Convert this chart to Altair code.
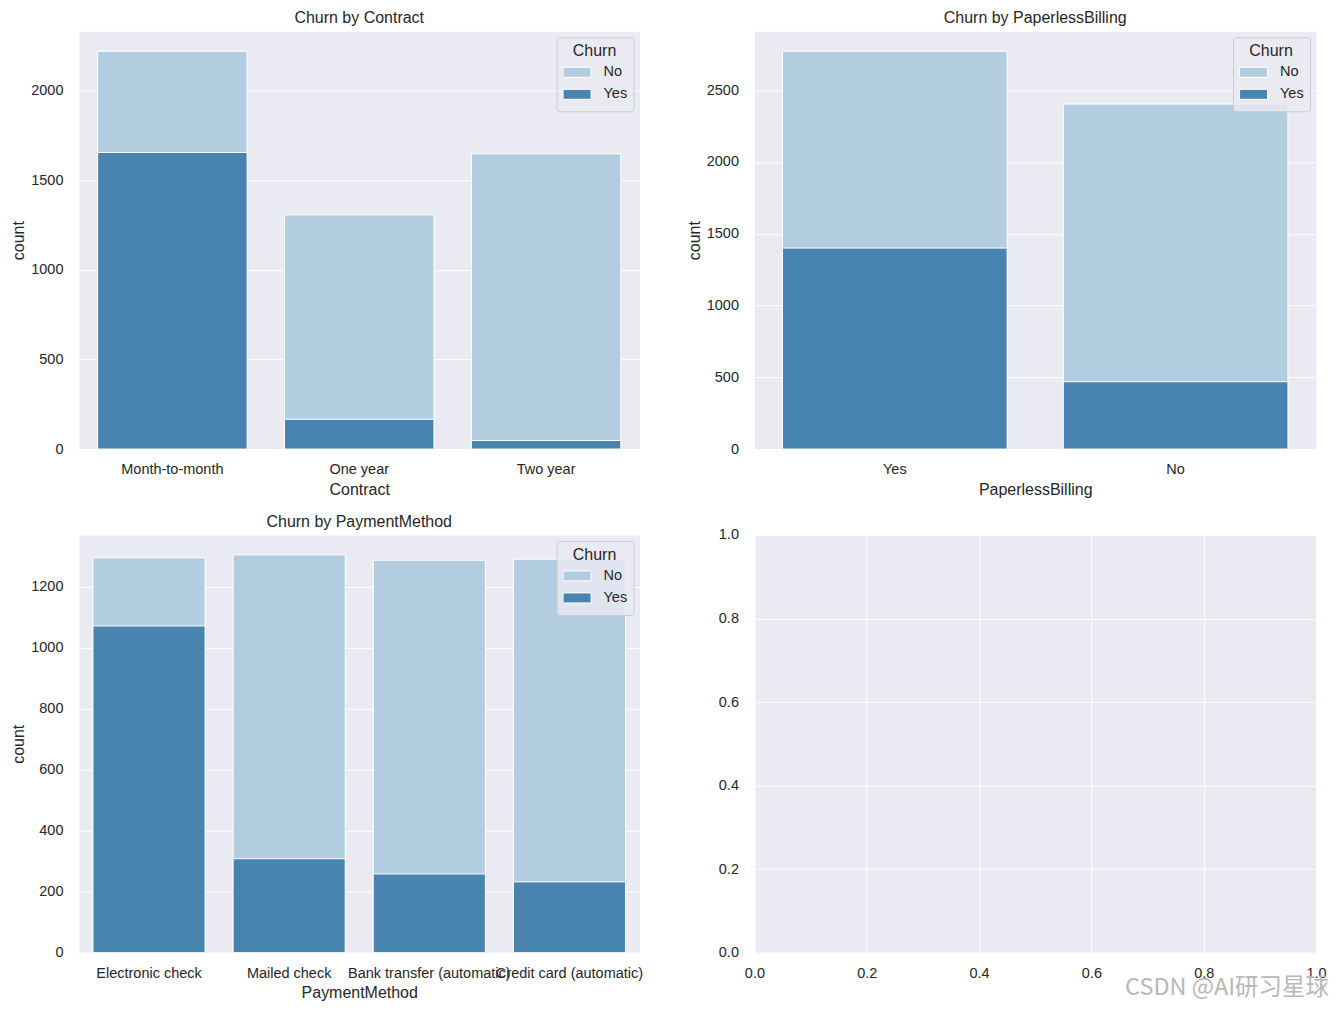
import altair as alt
import pandas as pd

# ---- data ----
churn_levels = ["No", "Yes"]

contract_cats = ["Month-to-month", "One year", "Two year"]
contract_no = [2220, 1307, 1647]
contract_yes = [1655, 166, 48]

paperless_cats = ["Yes", "No"]
paperless_no = [2771, 2403]
paperless_yes = [1400, 469]

payment_cats = ["Electronic check", "Mailed check", "Bank transfer (automatic)", "Credit card (automatic)"]
payment_no = [1294, 1304, 1286, 1290]
payment_yes = [1071, 308, 258, 232]

contract_ticks = [0, 500, 1000, 1500, 2000]
paperless_ticks = [0, 500, 1000, 1500, 2000, 2500]
payment_ticks = [0, 200, 400, 600, 800, 1000, 1200]
empty_ticks = [0.0, 0.2, 0.4, 0.6, 0.8, 1.0]

watermark = ["CSDN @AI研习星球"]

# ---- styling ----
FONT = "Liberation Sans"
TEXT = "#262626"
LIGHT = "#b3cde0"
DARK = "#4884b0"
PW = 561
PH = 418


def legend():
    return alt.Legend(
        orient="top-right", offset=6, title="Churn",
        titleFontSize=16, titleFontWeight="normal", titleColor=TEXT, titleFont=FONT,
        titleAnchor="middle", titlePadding=2,
        labelFontSize=14.5, labelColor=TEXT, labelFont=FONT, labelOffset=12,
        symbolType="M-1,-0.357H1V0.357H-1Z", symbolSize=784,
        symbolStrokeColor="white", symbolStrokeWidth=1, symbolOpacity=1,
        clipHeight=22, rowPadding=0,
        fillColor="rgba(234,234,242,0.8)", strokeColor="#cccccc",
        cornerRadius=3, padding=6,
    )


def bar_panel(cats, no_vals, yes_vals, field, ticks, width):
    n = len(cats)
    df = pd.DataFrame({
        field: cats + cats,
        "Churn": [churn_levels[0]] * n + [churn_levels[1]] * n,
        "count": no_vals + yes_vals,
    })
    ymax = max(no_vals + yes_vals) * 1.05
    return alt.Chart(df).mark_bar(stroke="white", strokeWidth=1, opacity=1).encode(
        x=alt.X(f"{field}:N", sort=cats,
                scale=alt.Scale(paddingInner=0.2, paddingOuter=0.1),
                axis=alt.Axis(title=field, labelAngle=0, grid=False,
                              labelOverlap=False, labelLimit=400)),
        y=alt.Y("count:Q", stack=None,
                scale=alt.Scale(domain=[0, ymax], nice=False, zero=True),
                axis=alt.Axis(title="count", values=ticks, format="d", grid=True)),
        color=alt.Color("Churn:N",
                        scale=alt.Scale(domain=churn_levels, range=[LIGHT, DARK]),
                        legend=legend()),
    ).properties(width=width, height=PH, title=f"Churn by {field}")


p1 = bar_panel(contract_cats, contract_no, contract_yes, "Contract", contract_ticks, PW)
p2 = bar_panel(paperless_cats, paperless_no, paperless_yes, "PaperlessBilling", paperless_ticks, PW + 1)
p3 = bar_panel(payment_cats, payment_no, payment_yes, "PaymentMethod", payment_ticks, PW)

empty_df = pd.DataFrame({"x": [0.5], "y": [0.5]})
empty_base = alt.Chart(empty_df).mark_point(opacity=0).encode(
    x=alt.X("x:Q", scale=alt.Scale(domain=[0, 1], nice=False),
            axis=alt.Axis(title=None, values=empty_ticks, format=".1f", grid=True)),
    y=alt.Y("y:Q", scale=alt.Scale(domain=[0, 1], nice=False),
            axis=alt.Axis(title=None, values=empty_ticks, format=".1f", grid=True)),
)
wm = alt.Chart(pd.DataFrame({"t": watermark})).mark_text(
    align="right", baseline="middle", fontSize=23.5, font="Noto Sans CJK SC",
    color="#b8b8b8",
).encode(text="t:N", x=alt.value(575), y=alt.value(453))
p4 = alt.layer(empty_base, wm).properties(width=PW + 1, height=PH)

chart = alt.concat(
    p1, p2, p3, p4, columns=2, bounds="flush",
    spacing={"row": 86, "column": 115},
).resolve_scale(color="independent").resolve_legend(color="independent").properties(
    padding={"left": 2, "top": 1, "right": 0, "bottom": 0}
).configure_view(
    fill="#eaeaf2", stroke="transparent"
).configure_axis(
    domain=False, ticks=False, tickSize=0, gridColor="white", gridWidth=1,
    labelFont=FONT, labelFontSize=14.5, labelColor=TEXT, labelFlush=False,
    titleFont=FONT, titleFontSize=16, titleFontWeight="normal", titleColor=TEXT,
).configure_axisX(
    labelPadding=13.5, titlePadding=5,
).configure_axisY(
    labelPadding=16, titlePadding=4,
).configure_title(
    font=FONT, fontSize=16, fontWeight="normal", color=TEXT, offset=5, anchor="middle",
)

chart.save("out.html", embed_options={"renderer": "svg", "actions": False})
